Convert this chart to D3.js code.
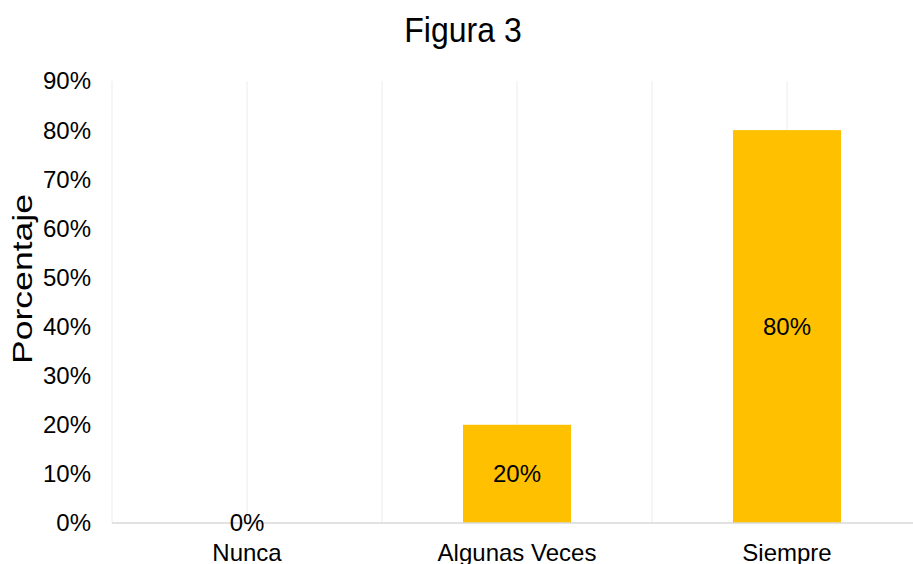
<!DOCTYPE html>
<html>
<head>
<meta charset="utf-8">
<script src="https://d3js.org/d3.v7.min.js"></script>
<style>
  body { margin: 0; background: white; }
  text { font-family: 'Liberation Sans', Arial, sans-serif; fill: #000; }
</style>
</head>
<body>
<svg id="chart"></svg>
<script>
var width = 913, height = 564;

// data
var categories = ["Nunca", "Algunas Veces", "Siempre"];
var values = [0, 0.20, 0.80];
var yTicks = [0, 0.1, 0.2, 0.3, 0.4, 0.5, 0.6, 0.7, 0.8, 0.9];

var svg = d3.select("#chart").attr("width", width).attr("height", height);

// plot area (right edge runs past the window, like the original)
var plotLeft = 112, plotRight = 922, plotTop = 81, plotBottom = 523;

var x = d3.scaleBand().domain(categories).range([plotLeft, plotRight]).paddingInner(0).paddingOuter(0);
var y = d3.scaleLinear().domain([0, 0.9]).range([plotBottom, plotTop]);

// vertical gridlines at category edges and centers
var gridX = [];
categories.forEach(function(c) {
  gridX.push(x(c));
  gridX.push(x(c) + x.bandwidth() / 2);
});
svg.append("g").selectAll("line").data(gridX).enter().append("line")
  .attr("x1", function(d) { return d; }).attr("x2", function(d) { return d; })
  .attr("y1", plotTop).attr("y2", plotBottom)
  .attr("stroke", "#ececec").attr("stroke-width", 1);

// bars
var barW = x.bandwidth() * 0.4;
svg.append("g").selectAll("rect").data(values).enter().append("rect")
  .attr("x", function(d, i) { return x(categories[i]) + x.bandwidth() / 2 - barW / 2; })
  .attr("y", function(d) { return y(d); })
  .attr("width", barW)
  .attr("height", function(d) { return y(0) - y(d); })
  .attr("fill", "#FFC000");

// x axis line
svg.append("line")
  .attr("x1", plotLeft).attr("x2", plotRight)
  .attr("y1", plotBottom).attr("y2", plotBottom)
  .attr("stroke", "#d9d9d9").attr("stroke-width", 1.5);

// y tick labels
var fmt = d3.format(".0%");
svg.append("g").selectAll("text").data(yTicks).enter().append("text")
  .attr("x", 91)
  .attr("y", function(d) { return y(d); })
  .attr("dy", "0.35em")
  .attr("text-anchor", "end")
  .style("font-size", "24px")
  .text(function(d) { return fmt(d); });

// category labels
svg.append("g").selectAll("text").data(categories).enter().append("text")
  .attr("x", function(d) { return x(d) + x.bandwidth() / 2; })
  .attr("y", 561)
  .attr("text-anchor", "middle")
  .style("font-size", "24px")
  .text(function(d) { return d; });

// data labels
svg.append("g").selectAll("text").data(values).enter().append("text")
  .attr("x", function(d, i) { return x(categories[i]) + x.bandwidth() / 2; })
  .attr("y", function(d) { return (y(d) + y(0)) / 2; })
  .attr("dy", "0.35em")
  .attr("text-anchor", "middle")
  .style("font-size", "24px")
  .text(function(d) { return fmt(d); });

// title
svg.append("text")
  .attr("transform", "translate(463,42) scale(1,1.12)")
  .attr("text-anchor", "middle")
  .style("font-size", "32px")
  .text("Figura 3");

// y axis title (stretched in the original)
svg.append("text")
  .attr("transform", "translate(32,279) rotate(-90)")
  .attr("text-anchor", "middle")
  .attr("textLength", 170)
  .attr("lengthAdjust", "spacingAndGlyphs")
  .style("font-size", "28px")
  .text("Porcentaje");
</script>
</body>
</html>
